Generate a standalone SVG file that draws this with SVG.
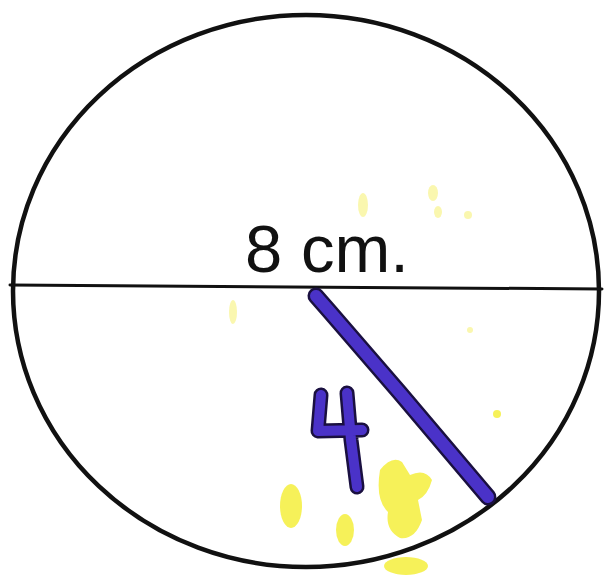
<svg xmlns="http://www.w3.org/2000/svg" width="606" height="575" viewBox="0 0 606 575">
<style>
.ink{fill:none;stroke:#111;stroke-linecap:round}
.pen-o{fill:none;stroke:#1a1040;stroke-linecap:round;stroke-linejoin:round}
.pen{fill:none;stroke:#4a32c8;stroke-linecap:round;stroke-linejoin:round}
.ylw{fill:#f4ef3c;opacity:0.85}
.ylw2{fill:#f6f27a;opacity:0.6}
</style>
<rect width="606" height="575" fill="#ffffff"/>
<g id="stains">
<ellipse class="ylw" cx="291" cy="506" rx="11" ry="22"/>
<ellipse class="ylw" cx="345" cy="530" rx="9" ry="16"/>
<path class="ylw" d="M380 470 Q392 455 402 462 L410 475 Q425 468 432 480 Q428 495 418 500 L422 520 Q415 540 400 538 Q385 530 388 512 Q375 500 380 470 Z"/>
<ellipse class="ylw" cx="406" cy="566" rx="22" ry="9"/>
<ellipse class="ylw2" cx="363" cy="205" rx="5" ry="12"/>
<ellipse class="ylw2" cx="433" cy="193" rx="5" ry="8"/>
<ellipse class="ylw2" cx="438" cy="212" rx="4" ry="6"/>
<circle class="ylw2" cx="468" cy="215" r="4"/>
<circle class="ylw" cx="497" cy="414" r="4"/>
<ellipse class="ylw2" cx="233" cy="312" rx="4" ry="12"/>
<circle class="ylw2" cx="470" cy="330" r="3"/>
</g>
<g id="circle">
<ellipse class="ink" cx="306" cy="291" rx="293" ry="276" stroke-width="4.5"/>
</g>
<g id="diameter">
<line class="ink" x1="10" y1="285" x2="602" y2="289" stroke-width="3"/>
<text x="327" y="272" text-anchor="middle" font-family="'Liberation Sans', Arial, sans-serif" font-size="67" fill="#111">8 cm.</text>
</g>
<g id="radius">
<path class="pen-o" d="M316 296 L330 312 L400 393 L488 497" stroke-width="17"/>
<path class="pen" d="M316 296 L330 312 L400 393 L488 497" stroke-width="12"/>
<path class="pen-o" d="M321 395 L318 431 L362 430 M347 393 L351 440 L357 487" stroke-width="15"/>
<path class="pen" d="M321 395 L318 431 L362 430 M347 393 L351 440 L357 487" stroke-width="10"/>
</g>
</svg>
